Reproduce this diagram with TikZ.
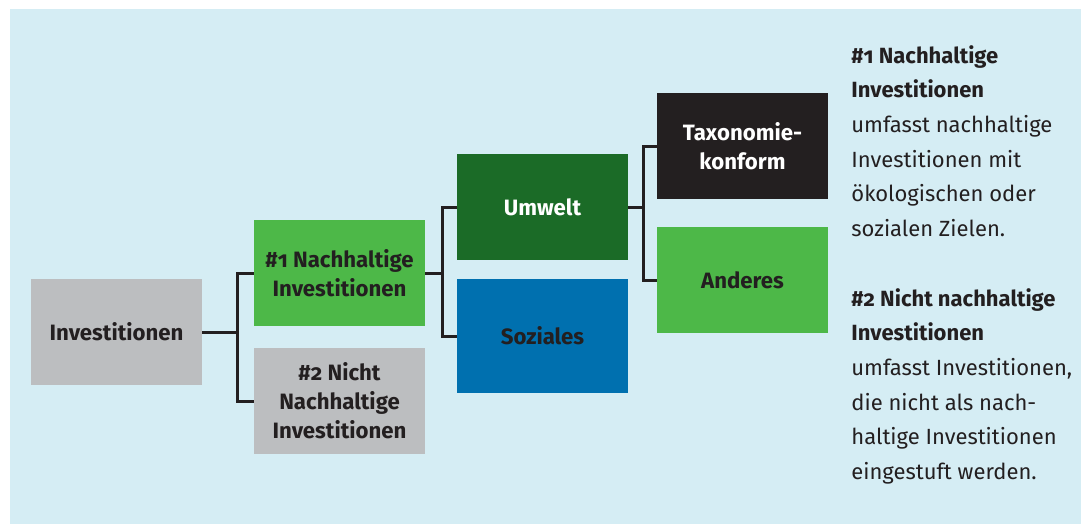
\documentclass[tikz,border=0pt]{standalone}
\usepackage{fontspec}
\setmainfont{Fira Sans}[Numbers=OldStyle]
\definecolor{bgblue}{HTML}{D5EDF4}
\definecolor{boxgrey}{HTML}{BCBEC0}
\definecolor{lightgreen}{HTML}{4DB848}
\definecolor{darkgreen}{HTML}{1B6B27}
\definecolor{socblue}{HTML}{0070AF}
\definecolor{darkink}{HTML}{231F20}
\tikzset{
  box/.style={rectangle, inner sep=0pt, minimum width=85.5pt, minimum height=53pt, align=center,
    text=darkink, font=\fontsize{11.1}{14.5}\selectfont\bfseries},
  link/.style={draw=darkink, line width=1.5pt},
  desc/.style={anchor=north west, inner sep=0pt, align=left, text=darkink,
    font=\fontsize{11}{17.3}\selectfont}
}
\begin{document}
\begin{tikzpicture}[x=0.5pt, y=-0.5pt, line join=miter]
  \useasboundingbox (0,0) rectangle (1081,524);
  \fill[bgblue] (10,9) rectangle (1081,524);
  % Stufe 1
  \node[box, fill=boxgrey] (inv) at (116.5,332) {Investitionen};
  % Stufe 2
  \node[box, fill=lightgreen] (nh1) at (339.5,273) {\#1 Nachhaltige\\Investitionen};
  \node[box, fill=boxgrey] (nh2) at (339.5,401) {\#2 Nicht\\Nachhaltige\\Investitionen};
  % Stufe 3
  \node[box, fill=darkgreen, text=white] (umw) at (542.5,207) {Umwelt};
  \node[box, fill=socblue, minimum height=57pt] (soz) at (542.5,336) {Soziales};
  % Stufe 4
  \node[box, fill=darkink, text=white] (tax) at (742.5,146) {Taxonomie-\\konform};
  \node[box, fill=lightgreen] (and) at (742.5,280) {Anderes};
  % Verbindungen
  \draw[link] (inv.east) -- ++(35,0) coordinate (j1);
  \draw[link] (nh1.west) -| (j1) |- (nh2.west);
  \draw[link] (nh1.east) -- ++(17,0) coordinate (j2);
  \draw[link] (umw.west) -| (j2) |- (soz.west);
  \draw[link] (umw.east) -- ++(15,0) coordinate (j3);
  \draw[link] (tax.west) -| (j3) |- (and.west);
  % Legende
  \node[desc] (desc1) at (851,45) {\textbf{\#1 Nachhaltige}\\\textbf{Investitionen}\\umfasst nachhaltige\\Investitionen mit\\ökologischen oder\\sozialen Zielen.};
  \node[desc] (desc2) at (851,288) {\textbf{\#2 Nicht nachhaltige}\\\textbf{Investitionen}\\umfasst Investitionen,\\die nicht als nach-\\haltige Investitionen\\eingestuft werden.};
\end{tikzpicture}
\end{document}
